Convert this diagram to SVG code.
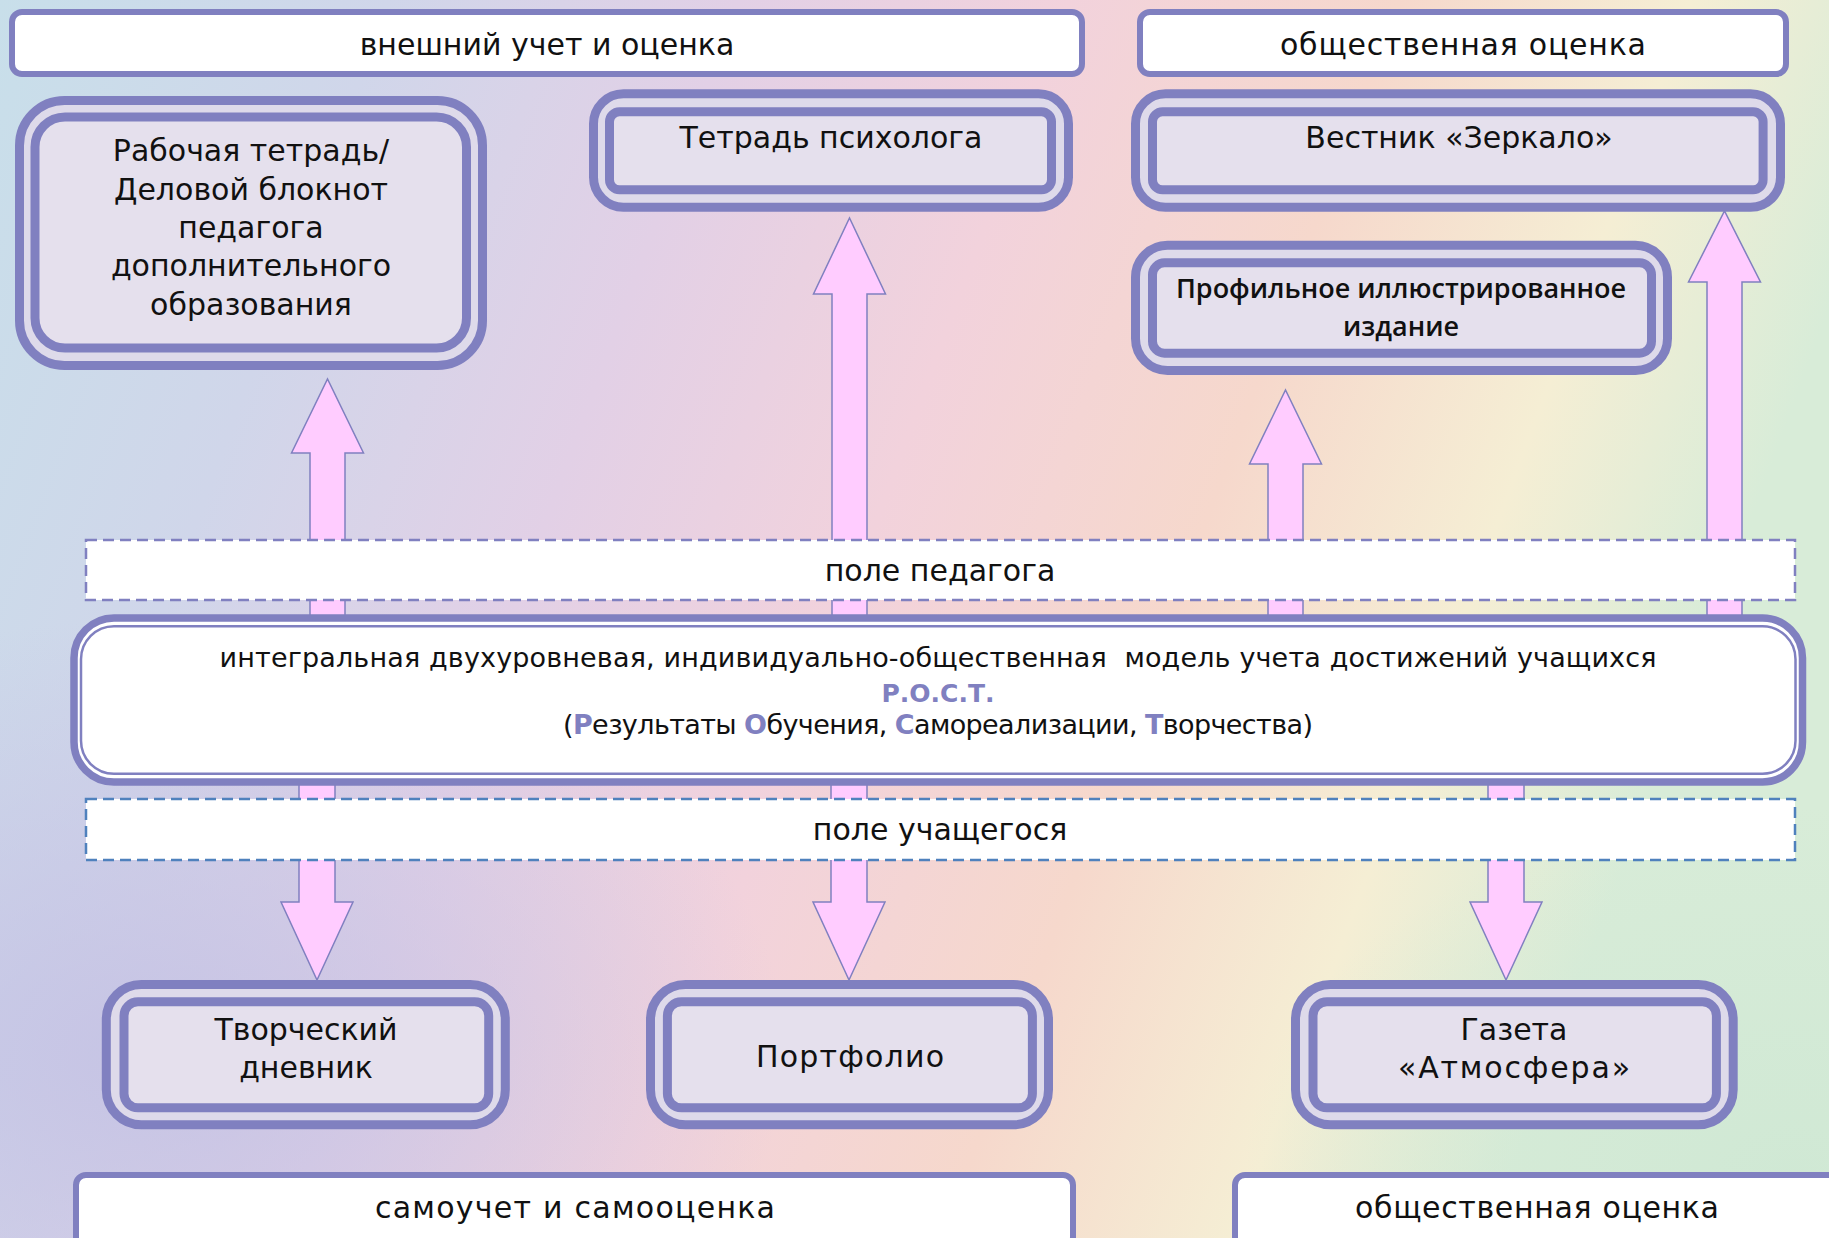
<svg xmlns="http://www.w3.org/2000/svg" width="1829" height="1238" viewBox="0 0 1829 1238">
<defs>
<linearGradient id="bg" x1="0" y1="0" x2="1" y2="0.25">
<stop offset="0" stop-color="#c8dfea"/>
<stop offset="0.2" stop-color="#d0d6ea"/>
<stop offset="0.38" stop-color="#e2d0e6"/>
<stop offset="0.55" stop-color="#f2d2dc"/>
<stop offset="0.72" stop-color="#f6d8cc"/>
<stop offset="0.87" stop-color="#f5eed4"/>
<stop offset="1" stop-color="#d8ecd8"/>
</linearGradient>
<radialGradient id="bl" cx="0.08" cy="0.85" r="0.35">
<stop offset="0" stop-color="#c4c2e4" stop-opacity="0.9"/>
<stop offset="1" stop-color="#c4c2e4" stop-opacity="0"/>
</radialGradient>
<radialGradient id="br" cx="0.98" cy="0.95" r="0.3">
<stop offset="0" stop-color="#cfe8d4" stop-opacity="0.9"/>
<stop offset="1" stop-color="#cfe8d4" stop-opacity="0"/>
</radialGradient>
<style>
.hdr{fill:#ffffff;stroke:#8080c0;stroke-width:6}
.outer{fill:#dedaea;stroke:#8080c0;stroke-width:9}
.inner{fill:#e5e0ed;stroke:#8080c0;stroke-width:9}
.arr{fill:#ffccff;stroke:#8080c0;stroke-width:1.5;stroke-linejoin:miter}
.dash1{fill:#ffffff;stroke:#8080c0;stroke-width:2.5;stroke-dasharray:11 6}
.dash2{fill:#ffffff;stroke:#4f81bd;stroke-width:2.5;stroke-dasharray:11 6}
.t{font-family:"DejaVu Sans","Liberation Sans",sans-serif;font-size:30px;fill:#111111;text-anchor:middle}
.tc{font-family:"DejaVu Sans","Liberation Sans",sans-serif;font-size:27px;fill:#111111;text-anchor:middle}
.tb{font-family:"Open Sans","Liberation Sans",sans-serif;font-size:27px;font-weight:600;fill:#111111;text-anchor:middle}
.hl{fill:#8080c0;font-weight:bold}
</style>
</defs>
<rect x="0" y="0" width="1829" height="1238" fill="url(#bg)"/>
<rect x="0" y="0" width="1829" height="1238" fill="url(#bl)"/>
<rect x="0" y="0" width="1829" height="1238" fill="url(#br)"/>

<g id="connectors">
<polygon class="arr" points="310,700 310,453 291.5,453 327.5,379 363.5,453 345,453 345,700"/>
<polygon class="arr" points="832,700 832,294 813.5,294 849.5,218 885.5,294 867,294 867,700"/>
<polygon class="arr" points="1268,700 1268,464 1249.5,464 1285.5,390 1321.5,464 1303,464 1303,700"/>
<polygon class="arr" points="1707,700 1707,282 1688.5,282 1724.5,211 1760.5,282 1742,282 1742,700"/>
<polygon class="arr" points="299,700 299,902 281,902 317,980 353,902 335,902 335,700"/>
<polygon class="arr" points="831,700 831,902 813,902 849,980 885,902 867,902 867,700"/>
<polygon class="arr" points="1488,700 1488,902 1470,902 1506,980 1542,902 1524,902 1524,700"/>
</g>

<g id="field-teacher">
<rect class="dash1" x="86" y="540" width="1709" height="60"/>
<text class="t" x="940" y="581">поле педагога</text>
</g>
<g id="field-student">
<rect class="dash2" x="86" y="799" width="1709" height="61"/>
<text class="t" x="940" y="840">поле учащегося</text>
</g>

<g id="model">
<rect x="74" y="618" width="1728.5" height="164" rx="40" fill="#ffffff" stroke="#8080c0" stroke-width="7.5"/>
<rect x="81" y="626.3" width="1714.5" height="147.4" rx="33" fill="none" stroke="#8080c0" stroke-width="2.5"/>
<text class="tc" x="938" y="667" textLength="1437">интегральная двухуровневая, индивидуально-общественная &#160;модель учета достижений учащихся</text>
<text class="tc hl" x="938" y="702" style="font-size:25px">Р.О.С.Т.</text>
<text class="tc" x="938" y="734" textLength="750">(<tspan class="hl">Р</tspan>езультаты <tspan class="hl">О</tspan>бучения, <tspan class="hl">С</tspan>амореализации, <tspan class="hl">Т</tspan>ворчества)</text>
</g>

<g id="hdr-external">
<rect class="hdr" x="12" y="12" width="1070" height="62" rx="10"/>
<text class="t" x="547" y="55">внешний учет и оценка</text>
</g>
<g id="hdr-public-top">
<rect class="hdr" x="1140" y="12" width="646" height="62" rx="10"/>
<text class="t" x="1463" y="55" textLength="366">общественная оценка</text>
</g>
<g id="hdr-self">
<rect class="hdr" x="76" y="1175" width="997" height="72" rx="10"/>
<text class="t" x="575" y="1218" textLength="400">самоучет и самооценка</text>
</g>
<g id="hdr-public-bottom">
<rect class="hdr" x="1235" y="1175" width="620" height="72" rx="10"/>
<text class="t" x="1537" y="1218" textLength="364">общественная оценка</text>
</g>

<g id="node-workbook">
<rect class="outer" x="19.5" y="100.5" width="463" height="265" rx="45"/>
<rect class="inner" x="35" y="117" width="431.5" height="231" rx="30"/>
<text class="t" x="251" y="161">Рабочая тетрадь/</text>
<text class="t" x="251" y="200">Деловой блокнот</text>
<text class="t" x="251" y="238">педагога</text>
<text class="t" x="251" y="276">дополнительного</text>
<text class="t" x="251" y="315">образования</text>
</g>
<g id="node-psychologist">
<rect class="outer" x="593.5" y="93.8" width="475" height="113.5" rx="30"/>
<rect class="inner" x="609.5" y="111.8" width="442" height="78" rx="10"/>
<text class="t" x="831" y="148">Тетрадь психолога</text>
</g>
<g id="node-vestnik">
<rect class="outer" x="1135.5" y="93.8" width="645" height="113.5" rx="30"/>
<rect class="inner" x="1152.5" y="111.8" width="610.6" height="78" rx="10"/>
<text class="t" x="1459" y="148">Вестник «Зеркало»</text>
</g>
<g id="node-profile">
<rect class="outer" x="1135.5" y="245.2" width="532" height="125.3" rx="32"/>
<rect class="inner" x="1152.5" y="262.8" width="499" height="90.4" rx="12"/>
<text class="tb" x="1401" y="298">Профильное иллюстрированное</text>
<text class="tb" x="1401" y="336">издание</text>
</g>
<g id="node-diary">
<rect class="outer" x="106.3" y="984.5" width="399" height="140.3" rx="35"/>
<rect class="inner" x="124" y="1001.8" width="364.7" height="106" rx="14"/>
<text class="t" x="306" y="1040">Творческий</text>
<text class="t" x="306" y="1078">дневник</text>
</g>
<g id="node-portfolio">
<rect class="outer" x="650.5" y="984.5" width="398" height="140.3" rx="35"/>
<rect class="inner" x="667.4" y="1001.8" width="365" height="106" rx="14"/>
<text class="t" x="850" y="1067" textLength="188">Портфолио</text>
</g>
<g id="node-gazette">
<rect class="outer" x="1295.5" y="984.5" width="437.7" height="140.3" rx="35"/>
<rect class="inner" x="1313" y="1001.8" width="403.4" height="106" rx="14"/>
<text class="t" x="1514" y="1040">Газета</text>
<text class="t" x="1514" y="1078" textLength="232">«Атмосфера»</text>
</g>
</svg>
